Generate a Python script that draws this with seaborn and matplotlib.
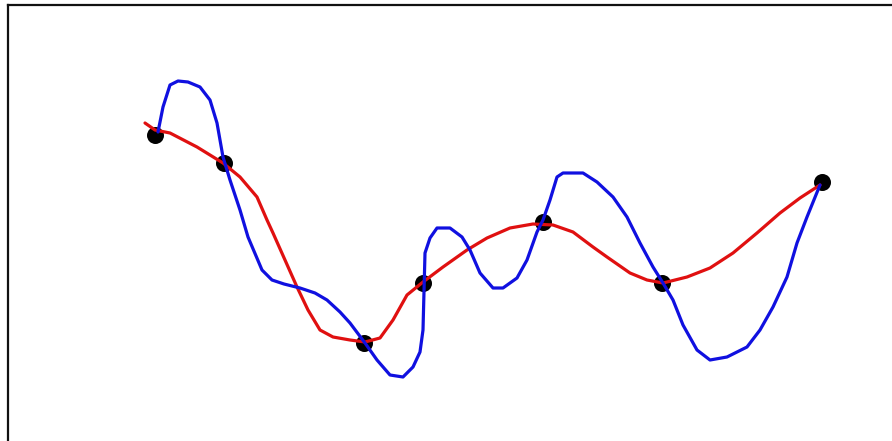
import numpy as np
import pandas as pd
import matplotlib
matplotlib.use("Agg")
import matplotlib.pyplot as plt
import seaborn as sns

# =============================== #
# data (pixel units, y grows downward)
# =============================== #
knot_x = [155, 224, 364, 423, 543, 662, 822]
knot_y = [135, 163, 343, 283, 222, 283, 182]

# smooth red curve
red_x = [145, 155, 170, 197, 223, 240, 257, 267, 273, 285, 297, 308, 320, 333, 350,
         365, 380, 393, 407, 423, 443, 467, 487, 510, 533, 553, 573, 593, 607, 630,
         647, 663, 687, 710, 733, 757, 780, 800, 820]
red_y = [123, 130, 133, 147, 163, 177, 197, 220, 233, 260, 287, 310, 330, 337, 340,
         342, 338, 320, 295, 282, 267, 250, 238, 228, 224, 225, 232, 247, 257, 273,
         280, 283, 277, 268, 253, 233, 213, 198, 185]

# wiggly blue curve
blue_x = [158, 163, 170, 178, 188, 200, 210, 217, 223, 230, 240, 248, 262, 272, 284,
          300, 315, 327, 340, 350, 365, 377, 390, 403, 413, 420, 423, 425, 430, 437,
          450, 462, 470, 480, 493, 503, 517, 527, 537, 543, 550, 557, 563, 583, 597,
          613, 627, 640, 653, 663, 673, 683, 697, 710, 727, 747, 760, 773, 787, 797,
          807, 820]
blue_y = [132, 107, 85, 81, 82, 87, 100, 123, 157, 180, 210, 237, 270, 280, 284,
          288, 293, 300, 312, 323, 343, 360, 375, 377, 367, 352, 330, 253, 238, 228,
          228, 237, 250, 273, 288, 288, 278, 260, 232, 220, 200, 177, 173, 173, 182,
          197, 217, 243, 267, 283, 300, 325, 350, 360, 357, 347, 330, 307, 277, 243,
          217, 185]

knots = pd.DataFrame({"x": knot_x, "y": knot_y})
red = pd.DataFrame({"x": red_x, "y": red_y})
blue = pd.DataFrame({"x": blue_x, "y": blue_y})

# =============================== #
# figure
# =============================== #
sns.set_style("white")
W, H = 892, 441
fig = plt.figure(figsize=(W / 100, H / 100), dpi=100)
ax = fig.add_axes([8 / W, 0, (W - 8) / W, (H - 5) / H])

sns.scatterplot(data=knots, x="x", y="y", ax=ax, color="black", s=150,
                edgecolor="black", linewidth=0, zorder=2, legend=False)
sns.lineplot(data=red, x="x", y="y", ax=ax, sort=False, color="#e01010",
             linewidth=2.3, zorder=3)
sns.lineplot(data=blue, x="x", y="y", ax=ax, sort=False, color="#1010e0",
             linewidth=2.3, zorder=4)

ax.set_xlim(8, W)
ax.set_ylim(H, 5)
ax.set_xticks([])
ax.set_yticks([])
ax.set_xlabel("")
ax.set_ylabel("")
for side in ["right", "bottom"]:
    ax.spines[side].set_visible(False)
for side in ["left", "top"]:
    ax.spines[side].set_linewidth(1.6)
    ax.spines[side].set_color("#111111")

fig.savefig("out.png", dpi=100)
